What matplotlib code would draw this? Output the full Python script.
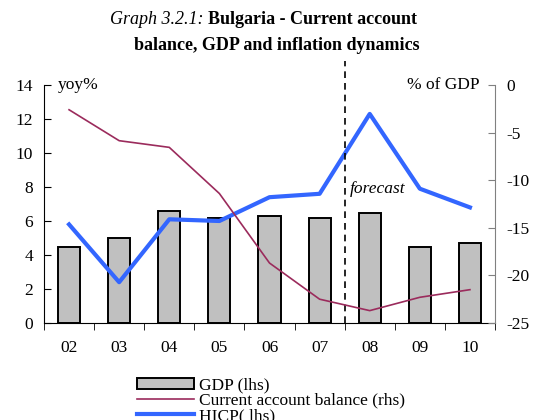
import matplotlib
matplotlib.use("Agg")
import matplotlib.pyplot as plt
import numpy as np

years = ["02", "03", "04", "05", "06", "07", "08", "09", "10"]
gdp = [4.5, 5.0, 6.6, 6.2, 6.3, 6.2, 6.5, 4.5, 4.7]
hicp = [5.8, 2.4, 6.1, 6.0, 7.4, 7.6, 12.3, 7.9, 6.8]
current_account = [-2.6, -5.85, -6.55, -11.4, -18.7, -22.5, -23.7, -22.3, -21.5]

plt.rcParams["font.family"] = ["Liberation Serif", "DejaVu Serif"]
plt.rcParams["axes.unicode_minus"] = False

fig = plt.figure(figsize=(5.37, 4.2), dpi=100)
ax = fig.add_axes([44 / 537, 1 - 323 / 420, 451 / 537, 238 / 420])
ax2 = ax.twinx()

x = np.arange(len(years))
bars = ax.bar(x, gdp, width=0.44, color="#c0c0c0", edgecolor="black",
              linewidth=1.4, label="GDP (lhs)", zorder=2)
ca_line, = ax2.plot(x, current_account, color="#9b2b5c", linewidth=1.2,
                    label="Current account balance (rhs)")
hicp_line, = ax.plot(x, hicp, color="#3366ff", linewidth=3,
                     label="HICP( lhs)", zorder=4)

ax.set_xlim(-0.5, len(years) - 0.5)
ax.set_ylim(0, 14)
ax.set_yticks(range(0, 15, 2))
ax2.set_ylim(-25, 0)
ax2.set_yticks(range(-25, 1, 5))

ax.set_xticks(x)
ax.set_xticklabels(years)
ax.set_xticks(np.arange(-0.5, len(years)), minor=True)
ax.tick_params(axis="x", which="major", length=0, pad=12, labelsize=12.5)
ax.tick_params(axis="x", which="minor", length=5, direction="out")
ax.tick_params(axis="y", direction="in", length=5, labelsize=12.5, pad=8)
ax2.tick_params(axis="y", direction="in", length=5, labelsize=12.5, pad=8,
                color="#808080")

for side in ["top", "right"]:
    ax.spines[side].set_visible(False)
ax2.spines["top"].set_visible(False)
ax2.spines["left"].set_visible(False)
ax2.spines["bottom"].set_visible(False)
ax2.spines["right"].set_color("#808080")

# forecast divider between 07 and 08
ax.axvline(5.5, ymin=0, ymax=1.1, color="black", linestyle=(0, (4, 3)),
           linewidth=1.2, clip_on=False, zorder=5)
ax.text(5.6, 7.9, "forecast", fontstyle="italic", fontsize=12.5, va="center")
ax.text(0.03, 14, "yoy%", fontsize=12.5, transform=ax.get_yaxis_transform(), va="center")
ax.text(0.965, 14, "% of GDP", fontsize=12.5, ha="right", va="center",
        transform=ax.get_yaxis_transform())

fig.text(204 / 537, 1 - 20 / 420, "Graph 3.2.1:", fontstyle="italic",
         fontsize=13, ha="right", va="center")
fig.text(208 / 537, 1 - 20 / 420, "Bulgaria - Current account", fontweight="bold",
         fontsize=13, ha="left", va="center")
fig.text(277 / 537, 1 - 46 / 420, "balance, GDP and inflation dynamics",
         fontweight="bold", fontsize=13, ha="center", va="center")

fig.legend(handles=[bars, ca_line, hicp_line],
           labels=["GDP (lhs)", "Current account balance (rhs)", "HICP( lhs)"],
           loc="upper left", bbox_to_anchor=(128 / 537, 1 - 369 / 420),
           frameon=False, fontsize=12.5, labelspacing=-0.05, handlelength=3.3,
           handleheight=0.6, handletextpad=0.3, borderpad=0)

fig.savefig("out.png", dpi=100)
